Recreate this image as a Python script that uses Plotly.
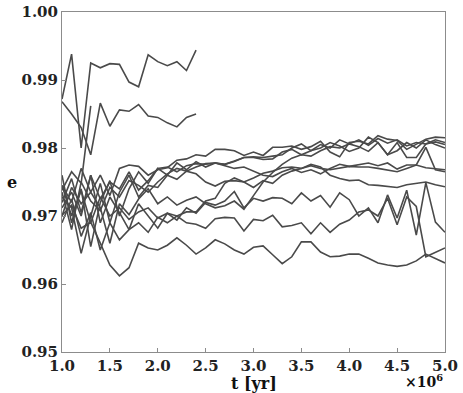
import plotly.graph_objects as go

# time in units of 1e6 yr
t = [1.0, 1.1, 1.2, 1.3, 1.4, 1.5, 1.6, 1.7, 1.8, 1.9, 2.0,
     2.1, 2.2, 2.3, 2.4, 2.5, 2.6, 2.7, 2.8, 2.9, 3.0,
     3.1, 3.2, 3.3, 3.4, 3.5, 3.6, 3.7, 3.8, 3.9, 4.0,
     4.1, 4.2, 4.3, 4.4, 4.5, 4.6, 4.7, 4.8, 4.9, 5.0]

# short runs (stop near 2.4e6 / 1.3e6)
s1 = [0.9872, 0.9938, 0.9800, 0.9925, 0.9918, 0.9924, 0.9923, 0.9897, 0.9890, 0.9937,
      0.9927, 0.9921, 0.9927, 0.9914, 0.9944]
s2 = [0.9868, 0.9850, 0.9830, 0.9790, 0.9866, 0.9832, 0.9856, 0.9854, 0.9864, 0.9847,
      0.9845, 0.9837, 0.9831, 0.9845, 0.9850]
s3 = [0.9738, 0.9765, 0.9748, 0.9862]

# full runs
e1 = [0.9701, 0.9716, 0.9682, 0.9691, 0.9660, 0.9628, 0.9612, 0.9624, 0.9660, 0.9653,
      0.9650, 0.9657, 0.9668, 0.9657, 0.9644, 0.9653, 0.9665, 0.9659, 0.9650, 0.9644,
      0.9654, 0.9656, 0.9643, 0.9630, 0.9640, 0.9662, 0.9662, 0.9647, 0.9640, 0.9641,
      0.9644, 0.9644, 0.9638, 0.9631, 0.9628, 0.9626, 0.9628, 0.9634, 0.9644, 0.9638,
      0.9631]
e2 = [0.9690, 0.9725, 0.9670, 0.9705, 0.9650, 0.9690, 0.9665, 0.9680, 0.9690, 0.9676,
      0.9698, 0.9690, 0.9700, 0.9690, 0.9688, 0.9682, 0.9696, 0.9698, 0.9697, 0.9678,
      0.9695, 0.9693, 0.9701, 0.9684, 0.9686, 0.9690, 0.9674, 0.9690, 0.9676, 0.9688,
      0.9694, 0.9706, 0.9709, 0.9700, 0.9726, 0.9687, 0.9728, 0.9714, 0.9640, 0.9647,
      0.9653]
e3 = [0.9745, 0.9700, 0.9738, 0.9690, 0.9728, 0.9700, 0.9712, 0.9695, 0.9706, 0.9712,
      0.9697, 0.9704, 0.9694, 0.9712, 0.9704, 0.9720, 0.9716, 0.9722, 0.9736, 0.9712,
      0.9726, 0.9722, 0.9727, 0.9726, 0.9718, 0.9734, 0.9722, 0.9730, 0.9713, 0.9734,
      0.9724, 0.9700, 0.9712, 0.9690, 0.9731, 0.9697, 0.9738, 0.9672, 0.9749, 0.9691,
      0.9676]
e4 = [0.9712, 0.9735, 0.9700, 0.9760, 0.9690, 0.9728, 0.9705, 0.9680, 0.9718, 0.9700,
      0.9682, 0.9704, 0.9700, 0.9706, 0.9706, 0.9722, 0.9726, 0.9748, 0.9756, 0.9750,
      0.9742, 0.9752, 0.9748, 0.9760, 0.9766, 0.9770, 0.9776, 0.9772, 0.9760, 0.9755,
      0.9752, 0.9753, 0.9746, 0.9745, 0.9743, 0.9742, 0.9746, 0.9748, 0.9750, 0.9746,
      0.9743]
e5 = [0.9728, 0.9712, 0.9645, 0.9700, 0.9748, 0.9690, 0.9735, 0.9760, 0.9728, 0.9745,
      0.9742, 0.9760, 0.9754, 0.9766, 0.9762, 0.9750, 0.9744, 0.9751, 0.9752, 0.9750,
      0.9756, 0.9763, 0.9766, 0.9771, 0.9772, 0.9770, 0.9774, 0.9770, 0.9768, 0.9770,
      0.9773, 0.9772, 0.9772, 0.9770, 0.9767, 0.9765, 0.9770, 0.9775, 0.9771, 0.9769,
      0.9768]
e6 = [0.9760, 0.9690, 0.9740, 0.9655, 0.9720, 0.9752, 0.9700, 0.9740, 0.9765, 0.9748,
      0.9770, 0.9760, 0.9778, 0.9768, 0.9780, 0.9772, 0.9778, 0.9774, 0.9770, 0.9772,
      0.9766, 0.9760, 0.9758, 0.9765, 0.9770, 0.9764, 0.9768, 0.9762, 0.9770, 0.9776,
      0.9773, 0.9776, 0.9778, 0.9774, 0.9778, 0.9769, 0.9775, 0.9775, 0.9801, 0.9768,
      0.9765]
e7 = [0.9700, 0.9742, 0.9718, 0.9735, 0.9712, 0.9660, 0.9718, 0.9702, 0.9725, 0.9740,
      0.9718, 0.9728, 0.9716, 0.9723, 0.9728, 0.9718, 0.9712, 0.9715, 0.9722, 0.9710,
      0.9730, 0.9750, 0.9764, 0.9776, 0.9785, 0.9790, 0.9788, 0.9796, 0.9802, 0.9800,
      0.9806, 0.9802, 0.9795, 0.9808, 0.9790, 0.9796, 0.9808, 0.9800, 0.9812, 0.9805,
      0.9800]
e8 = [0.9735, 0.9680, 0.9750, 0.9722, 0.9708, 0.9742, 0.9728, 0.9752, 0.9745, 0.9735,
      0.9750, 0.9762, 0.9770, 0.9766, 0.9772, 0.9777, 0.9778, 0.9776, 0.9781, 0.9786,
      0.9786, 0.9783, 0.9784, 0.9794, 0.9798, 0.9790, 0.9796, 0.9805, 0.9800, 0.9812,
      0.9806, 0.9812, 0.9804, 0.9814, 0.9807, 0.9812, 0.9803, 0.9808, 0.9806, 0.9809,
      0.9805]
e9 = [0.9720, 0.9755, 0.9705, 0.9760, 0.9725, 0.9750, 0.9740, 0.9765, 0.9738, 0.9752,
      0.9770, 0.9772, 0.9765, 0.9774, 0.9777, 0.9776, 0.9778, 0.9776, 0.9780, 0.9786,
      0.9787, 0.9786, 0.9788, 0.9790, 0.9800, 0.9806, 0.9796, 0.9800, 0.9808, 0.9803,
      0.9795, 0.9800, 0.9816, 0.9808, 0.9790, 0.9808, 0.9786, 0.9786, 0.9806, 0.9812,
      0.9808]
e10 = [0.9745, 0.9720, 0.9770, 0.9735, 0.9760, 0.9730, 0.9770, 0.9775, 0.9773, 0.9760,
       0.9768, 0.9771, 0.9782, 0.9784, 0.9790, 0.9788, 0.9798, 0.9798, 0.9796, 0.9789,
       0.9794, 0.9789, 0.9801, 0.9801, 0.9803, 0.9798, 0.9802, 0.9810, 0.9794, 0.9787,
       0.9808, 0.9810, 0.9806, 0.9818, 0.9813, 0.9811, 0.9798, 0.9806, 0.9813, 0.9816,
       0.9815]

runs = [s1, s2, s3, e1, e2, e3, e4, e5, e6, e7, e8, e9, e10]

x_ticks = [1.0, 1.5, 2.0, 2.5, 3.0, 3.5, 4.0, 4.5, 5.0]
y_ticks = [0.95, 0.96, 0.97, 0.98, 0.99, 1.0]

SERIF = "DejaVu Serif"
LINE = "#4a4a4a"

fig = go.Figure()
for run in runs:
    fig.add_trace(go.Scatter(x=t[:len(run)], y=run, mode="lines",
                             line=dict(color=LINE, width=1.6), hoverinfo="skip"))

axis_common = dict(
    showgrid=False, zeroline=False, showline=True, linecolor="#8c8c8c", linewidth=1,
    mirror=True, ticks="inside", ticklen=4, tickcolor="#8c8c8c", automargin=False,
    ticklabeloverflow="allow",
    tickfont=dict(family=SERIF, size=15, color="#222"),
)

fig.update_xaxes(range=[1.0, 5.0], tickvals=x_ticks,
                 ticktext=["<b>%.1f</b>" % v for v in x_ticks], **axis_common)
fig.update_yaxes(range=[0.95, 1.0], tickvals=y_ticks,
                 ticktext=["<b>%.2f</b>" % v for v in y_ticks], **axis_common)

fig.update_layout(
    width=463, height=393,
    margin=dict(l=62, r=18, t=12, b=41),
    paper_bgcolor="white", plot_bgcolor="white",
    showlegend=False,
    font=dict(family=SERIF, color="#111"),
    annotations=[
        dict(text="<b>t [yr]</b>", x=0.5, y=-0.092, xref="paper", yref="paper",
             xanchor="center", yanchor="middle", showarrow=False, font=dict(size=16)),
        dict(text="<b>e</b>", x=-0.13, y=0.5, xref="paper", yref="paper",
             xanchor="center", yanchor="middle", showarrow=False, font=dict(size=16)),
        dict(text="<b>×10<sup>6</sup></b>", x=1.0, y=-0.084, xref="paper", yref="paper",
             xanchor="right", yanchor="middle", showarrow=False, font=dict(size=14)),
    ],
)

# drop the default body margin so the figure sits in the corner of the page
fig.write_html("out.html", config={"displayModeBar": False},
               post_script="document.body.style.margin='0';")
